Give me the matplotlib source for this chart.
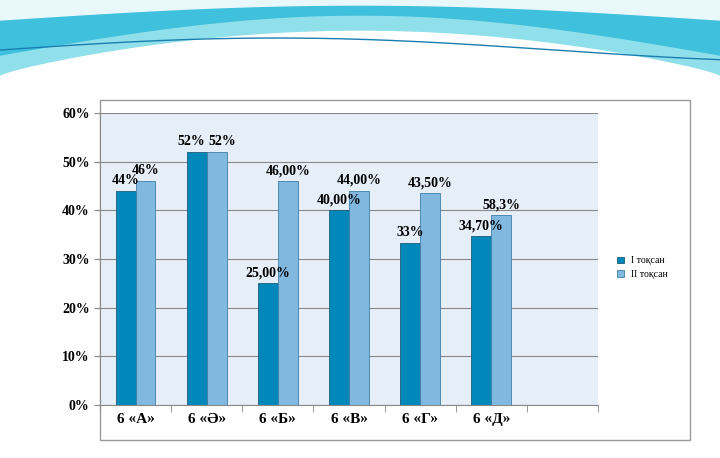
import numpy as np
import matplotlib.pyplot as plt

categories = ['6 «А»', '6 «Ә»', '6 «Б»', '6 «В»', '6 «Г»', '6 «Д»', '']
q1 = [44, 52, 25, 40, 33.3, 34.7]
q2 = [46, 52, 46, 44, 43.5, 39]
q1_labels = ['44%', '52%', '25,00%', '40,00%', '33%', '34,70%']
q2_labels = ['46%', '52%', '46,00%', '44,00%', '43,50%', '58,3%']

plt.rcParams['font.family'] = ['Liberation Serif', 'DejaVu Serif']

fig = plt.figure(figsize=(7.2, 4.58), dpi=100)

# decorative header wave
bg = fig.add_axes([0, 0, 1, 1])
bg.set_xlim(0, 720)
bg.set_ylim(458, 0)
bg.axis('off')
xs = np.linspace(0, 720, 200)
bg.fill_between(xs, 0, 75 - 45 * np.sin(xs / 720 * np.pi) ** 0.8, color='#8fe0ea')
bg.fill_between(xs, 0, 55 - 40 * np.sin(xs / 720 * np.pi), color='#3fc0dc')
bg.fill_between(xs, 0, 20 - 15 * np.sin(xs / 720 * np.pi), color='#e8f8fb')
bg.plot(xs, 50 - 12 * np.sin(xs / 720 * np.pi * 1.3), color='#1a7fb0', lw=1)
bg.add_patch(plt.Rectangle((100, 100), 590, 340, facecolor='white',
                           edgecolor='#999999', lw=1))

ax = fig.add_axes([100 / 720, 53 / 458, 498 / 720, 292 / 458])
ax.set_facecolor('#e6eef8')
x = np.arange(len(categories))
w = 0.28
ax.bar(x[:6] - w / 2, q1, w, color='#0088bb', edgecolor='#1f5c7a', lw=0.6, label='I тоқсан', zorder=3)
ax.bar(x[:6] + w / 2, q2, w, color='#80b8e0', edgecolor='#3f7fa8', lw=0.6, label='II тоқсан', zorder=3)
for i in range(6):
    dx = 0.08 if q1[i] == q2[i] else 0
    ax.text(x[i] - w / 2 - dx, q1[i] + 0.8, q1_labels[i], ha='center', va='bottom', fontsize=10, fontweight='bold', zorder=4)
    ax.text(x[i] + w / 2 + dx, q2[i] + 0.8, q2_labels[i], ha='center', va='bottom', fontsize=10, fontweight='bold', zorder=4)

ax.set_xlim(-0.5, 6.5)
ax.set_ylim(0, 60)
ax.set_yticks(range(0, 61, 10))
ax.set_yticklabels([f'{v}%' for v in range(0, 61, 10)], fontsize=10, fontweight='bold')
ax.set_xticks(x)
ax.set_xticklabels(categories, fontsize=11, fontweight='bold')
ax.set_xticks(np.arange(-0.5, 7, 1), minor=True)
ax.tick_params(axis='x', which='major', length=0, pad=6)
ax.tick_params(axis='x', which='minor', length=5, color='#888888')
ax.tick_params(axis='y', length=4, color='#888888')
ax.grid(axis='y', color='#888888', lw=0.8, zorder=0)
for s in ['top', 'right']:
    ax.spines[s].set_visible(False)
ax.spines['left'].set_color('#888888')
ax.spines['bottom'].set_color('#888888')

ax.legend(loc='center left', bbox_to_anchor=(1.02, 0.47), frameon=False, fontsize=7,
          handlelength=0.7, handleheight=0.7)

plt.savefig('out.png', dpi=100)
plt.close()
